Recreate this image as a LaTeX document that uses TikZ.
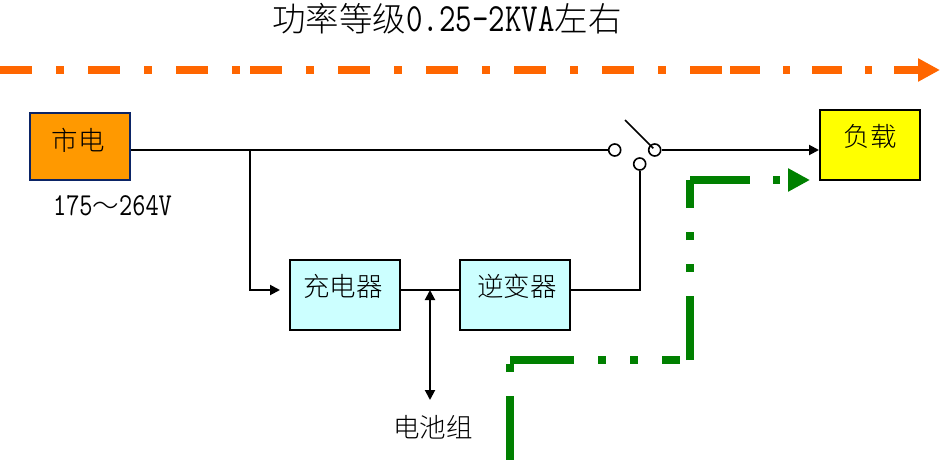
\documentclass[tikz,border=0pt]{standalone}
\usepackage{fontspec}
\newfontfamily\cjk[UprightFont=* Light]{Noto Sans CJK SC}
\setmonofont[FakeStretch=0.8]{Latin Modern Mono}
\usetikzlibrary{arrows.meta}
\definecolor{flowOrange}{HTML}{FF6600}
\definecolor{flowGreen}{HTML}{008000}
\definecolor{mainsFill}{HTML}{FF9900}
\definecolor{mainsEdge}{HTML}{0B2466}
\definecolor{unitFill}{HTML}{CCFFFF}
\definecolor{loadFill}{HTML}{FFFF00}
\tikzset{
  blockbox/.style={draw,line width=2pt,rectangle,inner sep=0pt},
  labeltext/.style={inner sep=0pt,font=\fontsize{26.5}{26}\selectfont\cjk},
  wire/.style={line width=2pt},
  contact/.style={draw,line width=1.6pt,circle,inner sep=0pt,minimum size=12pt},
  orangeflow/.style={line width=8pt,flowOrange},
  greenflow/.style={line width=8pt,flowGreen},
}
\begin{document}
\begin{tikzpicture}[x=1pt,y=-1pt]
\useasboundingbox (0,0) rectangle (940,460);
% Title
\node [inner sep=0pt,font=\fontsize{33.5}{33}\selectfont] (title) at (447,19)
  {{\cjk 功率等级}\texttt{\fontsize{40}{33}\selectfont 0.25-2KVA}{\cjk 左右}};
% Orange power range arrow, drawn in three pieces
\coordinate (o0) at (0,70);
\coordinate (o1) at (244,70);
\coordinate (o2) at (250,70);
\coordinate (o3) at (726,70);
\coordinate (o4) at (730,70);
\coordinate (o5) at (940,70);
\draw [orangeflow,dash pattern=on 32pt off 24pt on 8pt off 24pt] (o0) -- (o1);
\draw [orangeflow,dash pattern=on 32pt off 24pt on 8pt off 24pt] (o2) -- (o3);
\draw [orangeflow,dash pattern=on 30pt off 23pt on 7pt off 22pt,
  -{Triangle[length=22pt,width=22pt]}] (o4) -- (o5);
% Blocks
\node [blockbox,draw=mainsEdge,fill=mainsFill,minimum width=100pt,minimum height=67pt] (mains) at (80,146.5) {};
\node [blockbox,fill=unitFill,minimum width=110pt,minimum height=70pt] (charger) at (345,295) {};
\node [blockbox,fill=unitFill,minimum width=110pt,minimum height=70pt] (inverter) at (515,295) {};
\node [blockbox,fill=loadFill,minimum width=100pt,minimum height=70pt] (load) at (870,145) {};
% Block texts
\node [labeltext] (mainsText) at (78,140) {市电};
\node [labeltext] (chargerText) at (343,286) {充电器};
\node [labeltext] (inverterText) at (517,286) {逆变器};
\node [labeltext] (loadText) at (870,136) {负载};
\node [labeltext] (voltage) at (112.5,205.5)
  {\texttt{\fontsize{32}{26}\selectfont 175}～\texttt{\fontsize{32}{26}\selectfont 264V}};
\node [labeltext] (battery) at (433,427) {电池组};
% Switch
\node [contact] (contactA) at (614.7,150) {};
\node [contact] (contactB) at (654.7,150) {};
\node [contact] (contactC) at (639.7,164) {};
\coordinate (bladeTop) at (625,120);
\draw [wire,line width=1.6pt] (bladeTop) -- (653.3,148.3);
% Wiring
\coordinate (branch) at (250,150);
\coordinate (chargerIn) at (280,290);
\coordinate (busTap) at (430,290);
\coordinate (busEnd) at (430,400);
\draw [wire] (mains.east |- branch) -- (contactA);
\draw [wire,-{Triangle[length=10pt,width=10pt]}] (contactB) -- (load.west |- contactB);
\draw [wire,-{Triangle[length=10pt,width=10pt]}] (branch) |- (chargerIn);
\draw [wire] (charger.east |- busTap) -- (inverter.west |- busTap);
\draw [wire,{Triangle[length=10pt,width=10pt]}-{Triangle[length=10pt,width=10pt]}] (busTap) -- (busEnd);
\draw [wire] (inverter.east |- busTap) -| (contactC);
% Green backup path, one piece for each straight run
\coordinate (g0) at (510,460);
\coordinate (g1) at (510,360);
\coordinate (g2) at (680,360);
\coordinate (g3) at (690,360);
\coordinate (g4) at (690,180);
\coordinate (g5) at (810,180);
\draw [greenflow,dash pattern=on 64pt off 24pt on 8pt off 30pt] (g0) -- (g1);
\draw [greenflow,dash pattern=on 64pt off 24pt on 8pt off 24pt on 8pt off 24pt] (g1) -- (g2);
\draw [greenflow,dash pattern=on 64pt off 24pt on 8pt off 24pt on 8pt off 24pt] (g3) -- (g4);
\draw [greenflow,dash pattern=on 60pt off 23pt on 7pt off 30pt,
  -{Triangle[length=22pt,width=22pt]}] (g4) -- (g5);
\end{tikzpicture}
\end{document}
